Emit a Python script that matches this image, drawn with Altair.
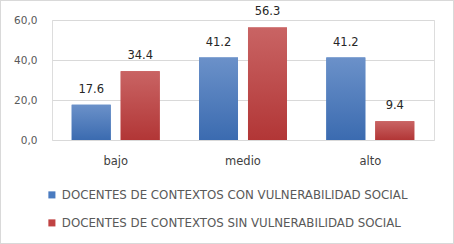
import altair as alt
import pandas as pd

categories = ["bajo", "medio", "alto"]
series = ["DOCENTES DE CONTEXTOS CON VULNERABILIDAD SOCIAL",
          "DOCENTES DE CONTEXTOS SIN VULNERABILIDAD SOCIAL"]
con_values = [17.6, 41.2, 41.2]
sin_values = [34.4, 56.3, 9.4]

rows = []
for c, v in zip(categories, con_values):
    rows.append({"cat": c, "serie": series[0], "val": v})
for c, v in zip(categories, sin_values):
    rows.append({"cat": c, "serie": series[1], "val": v})
df = pd.DataFrame(rows)

FONT = "DejaVu Sans"
blue = "#4a7bc0"
red = "#c04343"

x = alt.X("cat:N", sort=categories, title=None,
          scale=alt.Scale(paddingInner=0.309, paddingOuter=0.155),
          axis=alt.Axis(labelAngle=0, domain=False, ticks=False, labelPadding=15,
                        labelFontSize=11.5, labelColor="#404040", labelFont=FONT))
xo = alt.XOffset("serie:N", sort=series,
                 scale=alt.Scale(paddingInner=0.204, paddingOuter=0))
y = alt.Y("val:Q", title=None,
          scale=alt.Scale(domain=[0, 60], nice=False),
          axis=alt.Axis(values=[0, 20, 40, 60], domain=False, ticks=False,
                        gridColor="#d9d9d9", labelPadding=15, labelFontSize=10.5,
                        labelColor="#595959", labelFont=FONT,
                        labelExpr="replace(format(datum.value, '.1f'), '.', ',')"))

base = alt.Chart(df)

legend_bars = base.mark_bar().encode(
    x=x, xOffset=xo, y=y,
    color=alt.Color("serie:N", sort=series, title=None,
                    scale=alt.Scale(domain=series, range=[blue, red]),
                    legend=alt.Legend(orient="none", legendX=-6, legendY=169,
                                      direction="vertical", symbolType="square",
                                      symbolSize=50, symbolStrokeWidth=0,
                                      labelFontSize=11.8, labelColor="#595959",
                                      labelFont=FONT, rowPadding=15,
                                      labelOffset=4, labelLimit=500)),
)

grad_blue = base.transform_filter(alt.datum.serie == series[0]).mark_bar(
    color=alt.Gradient(gradient="linear", x1=0, x2=0, y1=0, y2=1,
                       stops=[alt.GradientStop(color="#6b91c9", offset=0),
                              alt.GradientStop(color="#3b6bb0", offset=1)])
).encode(x=x, xOffset=xo, y=y)

grad_red = base.transform_filter(alt.datum.serie == series[1]).mark_bar(
    color=alt.Gradient(gradient="linear", x1=0, x2=0, y1=0, y2=1,
                       stops=[alt.GradientStop(color="#c96464", offset=0),
                              alt.GradientStop(color="#b23636", offset=1)])
).encode(x=x, xOffset=xo, y=y)

labels = base.mark_text(baseline="alphabetic", dy=-12, fontSize=11.5, color="#262626",
                        font=FONT).encode(
    x=x, xOffset=xo, y=y, text=alt.Text("val:Q", format=".1f"))

border = base.mark_rect(fill=None, stroke="#d9d9d9", strokeWidth=1, clip=False).encode(
    x=alt.value(-51.5), x2=alt.value(401.5), y=alt.value(-19.5), y2=alt.value(223.5))

chart = alt.layer(legend_bars, grad_blue, grad_red, labels, border).properties(
    width=382, height=120,
    autosize=alt.AutoSizeParams(type="none"),
    padding={"left": 52, "top": 20, "right": 20, "bottom": 104},
).configure_view(stroke=None).configure(background="white")

chart.save("out.html", embed_options={"renderer": "svg", "actions": False})
